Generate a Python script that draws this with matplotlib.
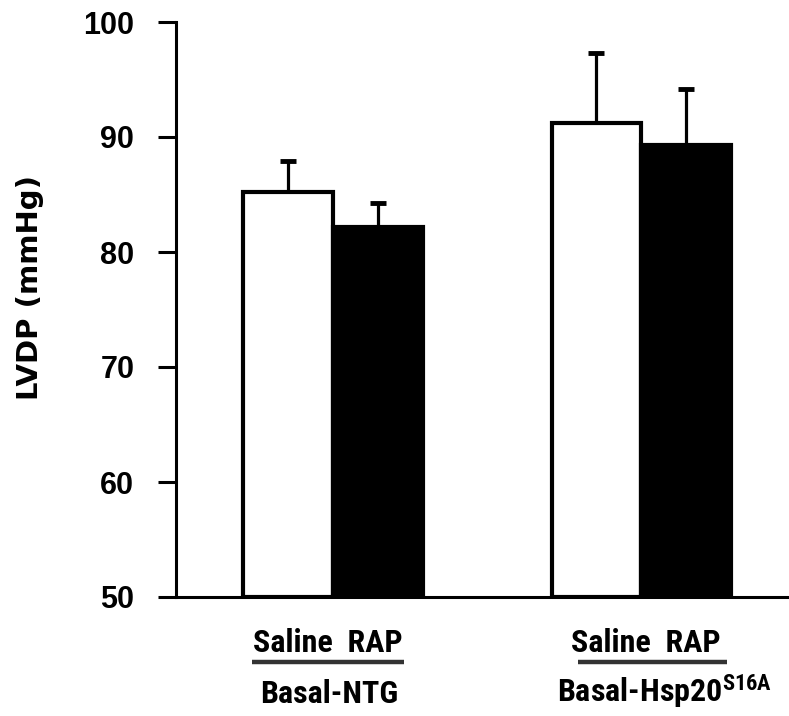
import matplotlib
matplotlib.use("Agg")
import matplotlib.pyplot as plt
from matplotlib import font_manager as fm
import matplotlib.transforms as mtransforms

groups = ["Basal-NTG", "Basal-Hsp20$^{S16A}$"]
conditions = ["Saline", "RAP"]
saline_vals = [85.2, 91.2]
rap_vals = [82.2, 89.3]
saline_err = [2.7, 6.1]
rap_err = [2.1, 4.9]
yticks = [50, 60, 70, 80, 90, 100]

names = {f.name for f in fm.fontManager.ttflist}
narrow_family = None
for cand in ["Liberation Sans Narrow", "Arial Narrow", "Roboto Condensed", "Open Sans Condensed"]:
    if cand in names:
        narrow_family = cand
        break
if narrow_family:
    narrow_kw = dict(family=narrow_family, fontweight='bold')
    fs_bottom = 23
else:
    narrow_kw = dict(family='DejaVu Sans', fontweight='bold', fontstretch='condensed')
    fs_bottom = 19
plt.rcParams['mathtext.default'] = 'regular'

fig = plt.figure(figsize=(7.89, 7.16), dpi=100)
ax = fig.add_axes([176/789, (716-597)/716, (789-176)/789, (597-22)/716])

centers = [0.0, 3.43]
w = 1.0
for i, c in enumerate(centers):
    ax.bar(c - w/2, saline_vals[i] - 50, bottom=50, width=w, color='white',
           edgecolor='black', linewidth=3, zorder=3)
    ax.bar(c + w/2, rap_vals[i] - 50, bottom=50, width=w, color='black',
           edgecolor='black', linewidth=3, zorder=3)
    ax.errorbar([c - w/2], [saline_vals[i]], yerr=[[0], [saline_err[i]]], fmt='none',
                ecolor='black', elinewidth=2.3, capsize=5.5, capthick=3.5, zorder=2)
    ax.errorbar([c + w/2], [rap_vals[i]], yerr=[[0], [rap_err[i]]], fmt='none',
                ecolor='black', elinewidth=2.3, capsize=5.5, capthick=3.5, zorder=2)

ax.set_xlim(-1.744, 5.07)
ax.set_ylim(50, 100)
ax.set_yticks(yticks)
ax.set_yticklabels([str(t) for t in yticks], fontsize=22, fontweight='bold',
                   family='Liberation Sans')
ax.tick_params(axis='y', length=13, width=2.2, pad=17)
ax.set_xticks([])
for s in ['top', 'right']:
    ax.spines[s].set_visible(False)
ax.spines['left'].set_linewidth(2.2)
ax.spines['bottom'].set_linewidth(2.2)
ax.set_ylabel("LVDP (mmHg)", fontsize=21, fontweight='bold', family='DejaVu Sans')
ax.yaxis.set_label_coords((44 - 176) / 613, (597 - 287) / 575)

trans = mtransforms.blended_transform_factory(ax.transData, ax.transAxes)
pair_x = [-0.06, 3.48]
line_x = [(-0.9, 0.79), (2.72, 4.38)]
group_x = [-0.04, 3.69]
for i in range(len(groups)):
    ax.text(pair_x[i], -0.0957, "  ".join(conditions), transform=trans, ha='center',
            va='baseline', fontsize=fs_bottom, **narrow_kw)
    ax.plot(line_x[i], [-0.113, -0.113], transform=trans, color='#333333',
            linewidth=3.2, clip_on=False, solid_capstyle='butt')
    ax.text(group_x[i], -0.184, groups[i], transform=trans, ha='center', va='baseline',
            fontsize=fs_bottom, **narrow_kw)

fig.savefig("out.png", dpi=100)
